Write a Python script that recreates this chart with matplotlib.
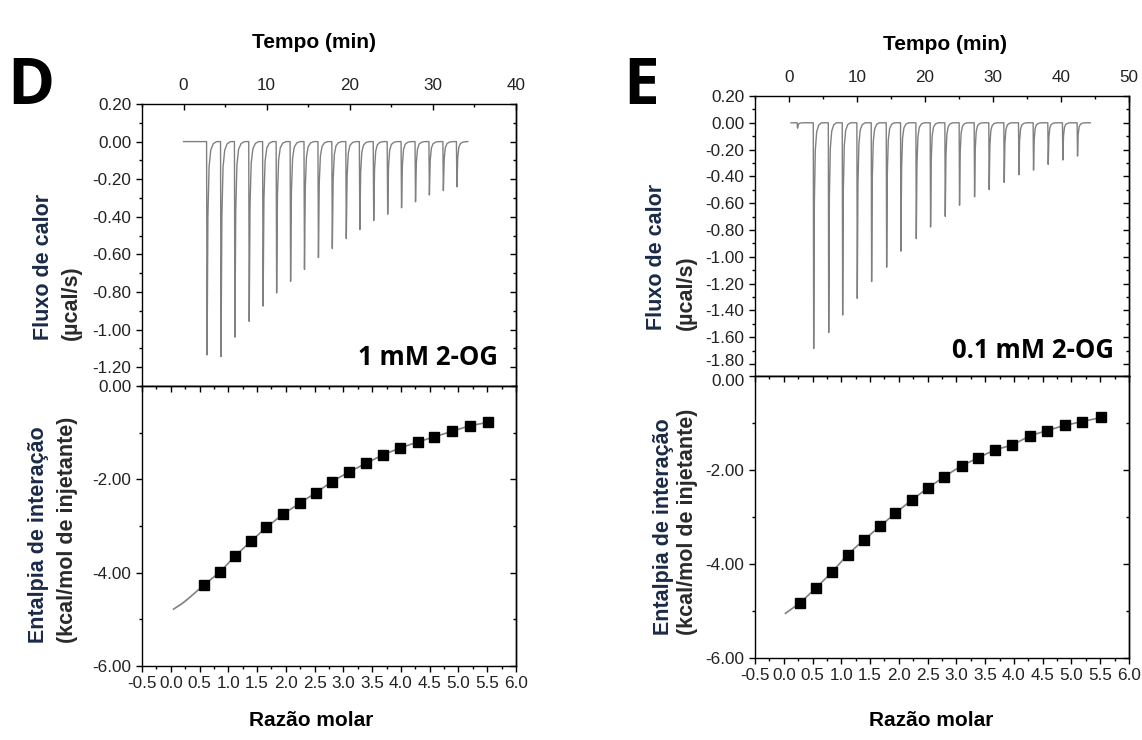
import matplotlib
matplotlib.use("Agg")
import matplotlib.pyplot as plt
from matplotlib.ticker import MultipleLocator, FuncFormatter
from matplotlib.transforms import ScaledTranslation

plt.rcParams['font.family'] = ['Liberation Sans', 'DejaVu Sans']

# ---- painel D : 1 mM 2-OG ----
d_tempo_ini_fim = [0.0, 34.2]
d_tempo_pico = [2.77, 4.45, 6.12, 7.84, 9.51, 11.14, 12.82, 14.49, 16.17, 17.84,
                19.52, 21.15, 22.82, 24.50, 26.17, 27.85, 29.52, 31.20, 32.83]
d_fluxo_pico = [-1.134, -1.143, -1.040, -0.956, -0.875, -0.805, -0.743, -0.680, -0.617, -0.569,
                -0.516, -0.468, -0.420, -0.386, -0.352, -0.320, -0.284, -0.261, -0.240]
d_razao = [0.58, 0.86, 1.12, 1.40, 1.66, 1.95, 2.24, 2.52, 2.80, 3.10,
           3.39, 3.68, 3.98, 4.29, 4.58, 4.89, 5.20, 5.51]
d_entalpia = [-4.26, -3.98, -3.64, -3.32, -3.03, -2.75, -2.51, -2.29, -2.05, -1.84,
              -1.66, -1.48, -1.33, -1.20, -1.09, -0.97, -0.85, -0.78]
d_ajuste_x = [0.05, 0.20, 0.32, 0.58, 0.86, 1.12, 1.40, 1.66, 1.95, 2.24, 2.52, 2.80, 3.10,
              3.39, 3.68, 3.98, 4.29, 4.58, 4.89, 5.20, 5.51]
d_ajuste_y = [-4.78, -4.66, -4.54, -4.26, -3.98, -3.64, -3.32, -3.03, -2.75, -2.51, -2.29, -2.05,
              -1.84, -1.66, -1.48, -1.33, -1.20, -1.09, -0.97, -0.85, -0.78]

# ---- painel E : 0.1 mM 2-OG ----
e_tempo_ini_fim = [0.3, 44.3]
e_tempo_pico = [1.2, 3.57, 5.78, 7.83, 9.98, 12.09, 14.30, 16.40, 18.66, 20.76, 22.92,
                25.02, 27.23, 29.38, 31.59, 33.75, 35.90, 38.06, 40.21, 42.37]
e_fluxo_pico = [-0.04, -1.685, -1.565, -1.435, -1.310, -1.185, -1.078, -0.958, -0.865, -0.778, -0.698,
                -0.615, -0.553, -0.498, -0.445, -0.388, -0.353, -0.310, -0.278, -0.248]
e_razao = [0.29, 0.56, 0.84, 1.11, 1.39, 1.67, 1.94, 2.23, 2.51, 2.79,
           3.09, 3.38, 3.67, 3.97, 4.28, 4.58, 4.88, 5.19, 5.52]
e_entalpia = [-4.82, -4.51, -4.17, -3.80, -3.49, -3.20, -2.92, -2.63, -2.38, -2.14,
              -1.91, -1.74, -1.57, -1.47, -1.27, -1.16, -1.05, -0.97, -0.88]
e_ajuste_x = [0.03] + e_razao
e_ajuste_y = [-5.05] + e_entalpia

# forma de cada pico de injecao (tempo relativo, fracao da altura)
forma_dt = [0, 0.06, 0.16, 0.30, 0.50, 0.80, 1.20]
forma_fr = [0, 1.0, 0.35, 0.12, 0.04, 0.01, 0]

CINZA = '#808080'
AZUL = '#1b2a47'
TAM_TICK = 12.3


def termograma(ini_fim, tempos, fluxos):
    xs = [ini_fim[0]]
    ys = [0.0]
    for t, f in zip(tempos, fluxos):
        for dt, fr in zip(forma_dt, forma_fr):
            xs.append(t + dt)
            ys.append(f * fr)
    xs.append(ini_fim[1])
    ys.append(0.0)
    return xs, ys


fmt2 = FuncFormatter(lambda v, p: ('%.2f' % v).replace('-0.00', '0.00'))


def estilo(ax):
    for s in ax.spines.values():
        s.set_linewidth(1.0)
    ax.tick_params(which='major', length=4.5, width=1.0, labelsize=TAM_TICK, pad=3,
                   labelcolor='#222222')
    ax.tick_params(which='minor', length=2.5, width=1.0)


def painel_topo(rect, xlim, ylim, xs, ys):
    ax = fig.add_axes(rect)
    ax.plot(xs, ys, color=CINZA, lw=1.0)
    ax.set_xlim(xlim)
    ax.set_ylim(ylim)
    estilo(ax)
    ax.xaxis.set_major_locator(MultipleLocator(10))
    ax.xaxis.set_minor_locator(MultipleLocator(5))
    ax.tick_params(axis='x', which='both', direction='in', top=True, bottom=False,
                   labeltop=True, labelbottom=False)
    ax.tick_params(axis='x', which='major', pad=8)
    ax.yaxis.set_major_locator(MultipleLocator(0.2))
    ax.yaxis.set_minor_locator(MultipleLocator(0.1))
    ax.yaxis.set_major_formatter(fmt2)
    ax.tick_params(axis='y', which='both', direction='out', left=True, right=False)
    dir_ = ax.secondary_yaxis('right')
    dir_.yaxis.set_major_locator(MultipleLocator(0.2))
    dir_.yaxis.set_minor_locator(MultipleLocator(0.1))
    estilo(dir_)
    dir_.tick_params(which='both', direction='in', labelright=False)
    return ax


def painel_baixo(rect, rx, ry, ax_x, ax_y):
    ax = fig.add_axes(rect)
    ax.plot(ax_x, ax_y, color=CINZA, lw=1.2, zorder=2)
    ax.plot(rx, ry, 's', color='black', ms=7, zorder=3)
    ax.set_xlim(-0.5, 6.0)
    ax.set_ylim(-6.0, 0.0)
    estilo(ax)
    ax.xaxis.set_major_locator(MultipleLocator(0.5))
    ax.xaxis.set_minor_locator(MultipleLocator(0.25))
    ax.xaxis.set_major_formatter(FuncFormatter(lambda v, p: '%.1f' % (0.0 if abs(v) < 1e-9 else v)))
    ax.tick_params(axis='x', which='both', direction='out', bottom=True, top=False)
    ax.yaxis.set_major_locator(MultipleLocator(2))
    ax.yaxis.set_minor_locator(MultipleLocator(1))
    ax.yaxis.set_major_formatter(fmt2)
    ax.tick_params(axis='y', which='both', direction='out', left=True, right=False)
    dir_ = ax.secondary_yaxis('right')
    dir_.yaxis.set_major_locator(MultipleLocator(2))
    dir_.yaxis.set_minor_locator(MultipleLocator(1))
    estilo(dir_)
    dir_.tick_params(which='both', direction='in', labelright=False)
    cima = ax.secondary_xaxis('top')
    cima.xaxis.set_major_locator(MultipleLocator(0.5))
    cima.xaxis.set_minor_locator(MultipleLocator(0.25))
    estilo(cima)
    cima.tick_params(which='both', direction='in', labeltop=False)
    return ax


fig = plt.figure(figsize=(11.42, 7.40), dpi=100)
W, H = 1142.0, 740.0


def rect(l, t, r, b):
    return [l / W, 1 - b / H, (r - l) / W, (b - t) / H]


# D
xs, ys = termograma(d_tempo_ini_fim, d_tempo_pico, d_fluxo_pico)
ax_d1 = painel_topo(rect(142, 104, 516, 386), (-5, 40), (-1.30, 0.20), xs, ys)
ax_d2 = painel_baixo(rect(142, 386, 516, 666), d_razao, d_entalpia, d_ajuste_x, d_ajuste_y)

# E
xs, ys = termograma(e_tempo_ini_fim, e_tempo_pico, e_fluxo_pico)
ax_e1 = painel_topo(rect(755, 96, 1129, 376), (-5, 50), (-1.89, 0.20), xs, ys)
ax_e2 = painel_baixo(rect(755, 376, 1129, 658), e_razao, e_entalpia, e_ajuste_x, e_ajuste_y)


def ftxt(x, y, s, **kw):
    fig.text(x / W, 1 - y / H, s, **kw)


lab = dict(fontsize=15, fontweight='bold')
ftxt(314, 43, 'Tempo (min)', ha='center', va='center', **lab)
ftxt(945, 45, 'Tempo (min)', ha='center', va='center', **lab)
ftxt(311, 720, 'Razão molar', ha='center', va='center', **lab)
ftxt(931, 720, 'Razão molar', ha='center', va='center', **lab)

rot = dict(rotation=90, ha='center', va='bottom', fontsize=15.5, fontweight='bold')
ftxt(44, 340, 'Fluxo de calor', color=AZUL, **rot)
ftxt(71, 340, '(µcal/s)', color='#2a2a2a', **rot)
ftxt(39, 643, 'Entalpia de interação', color=AZUL, **rot)
ftxt(68, 643, '(kcal/mol de injetante)', color='#2a2a2a', **rot)
ftxt(657, 330, 'Fluxo de calor', color=AZUL, **rot)
ftxt(686, 330, '(µcal/s)', color='#2a2a2a', **rot)
ftxt(664, 635, 'Entalpia de interação', color=AZUL, **rot)
ftxt(688, 635, '(kcal/mol de injetante)', color='#2a2a2a', **rot)

big = dict(family=['Open Sans', 'DejaVu Sans'], fontweight='bold')
ftxt(31, 88, 'D', ha='center', va='center', fontsize=46, **big)
ftxt(641, 88, 'E', ha='center', va='center', fontsize=46, **big)
ftxt(498, 357, '1 mM 2-OG', ha='right', va='center', fontsize=18.5, **big)
ftxt(1114, 350, '0.1 mM 2-OG', ha='right', va='center', fontsize=18.5, **big)

# "-1.80" e "0.00" ficam colados na juncao dos paineis E: afasta um pouco
fig.canvas.draw()
for lbl in ax_e1.get_yticklabels():
    if lbl.get_text() == '-1.80':
        lbl.set_transform(lbl.get_transform() + ScaledTranslation(0, 3 / 72, fig.dpi_scale_trans))
for lbl in ax_e2.get_yticklabels():
    if lbl.get_text() == '0.00':
        lbl.set_transform(lbl.get_transform() + ScaledTranslation(0, -3 / 72, fig.dpi_scale_trans))

fig.savefig('out.png', dpi=100, facecolor='white')
